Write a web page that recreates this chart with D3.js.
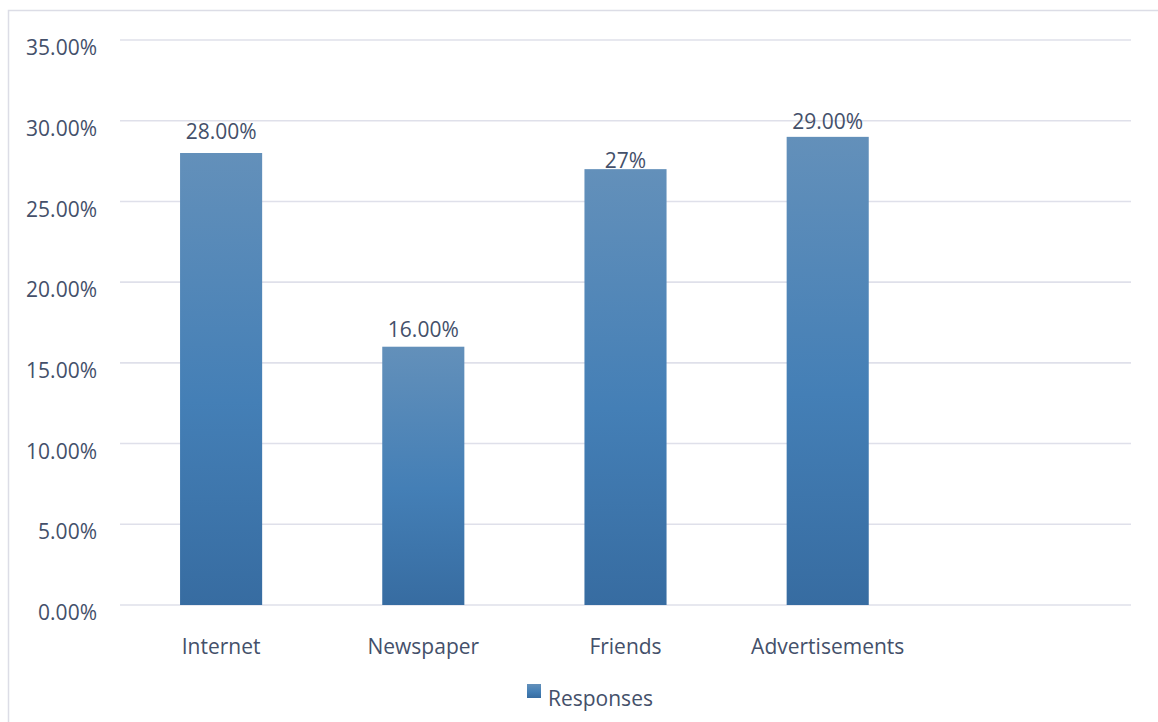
<!DOCTYPE html>
<html>
<head>
<meta charset="utf-8">
<script src="https://cdn.jsdelivr.net/npm/d3@7/dist/d3.min.js"></script>
<style>
  html, body { margin: 0; padding: 0; background: #ffffff; }
  svg { display: block; }
  text { font-family: "Open Sans", "Noto Sans", sans-serif; fill: #44506a; }
</style>
</head>
<body>
<svg id="chart" width="1158" height="722"></svg>
<script>
// Survey: where respondents heard about it
const categories = ["Internet", "Newspaper", "Friends", "Advertisements", ""];
const responses = [0.28, 0.16, 0.27, 0.29];
const valueLabels = ["28.00%", "16.00%", "27%", "29.00%"];
const yTicks = [0, 0.05, 0.10, 0.15, 0.20, 0.25, 0.30, 0.35];
const seriesName = "Responses";
// vertical gap (px) between each bar top and its value label
const labelLift = [14, 10, 1, 8];

const FONT_SIZE = "21px";
const svg = d3.select("#chart");
const W = 1158, H = 722;
const plot = { left: 120, right: 1131, top: 40, bottom: 605 };

// outer chart frame
svg.append("rect")
  .attr("x", 8.5).attr("y", 10.5)
  .attr("width", W + 10).attr("height", H + 10)
  .attr("fill", "none").attr("stroke", "#dcdde6").attr("stroke-width", 1.5);

const x = d3.scaleBand()
  .domain(categories)
  .range([plot.left, plot.right])
  .paddingInner(0.594)
  .paddingOuter(0.297);

const y = d3.scaleLinear()
  .domain([0, 0.35])
  .range([plot.bottom, plot.top]);

// bar gradient (lighter at top, darker at base)
const defs = svg.append("defs");
const grad = defs.append("linearGradient")
  .attr("id", "barFill")
  .attr("x1", 0).attr("y1", 0).attr("x2", 0).attr("y2", 1);
grad.append("stop").attr("offset", "0%").attr("stop-color", "#6390ba");
grad.append("stop").attr("offset", "55%").attr("stop-color", "#447fb6");
grad.append("stop").attr("offset", "100%").attr("stop-color", "#376ca1");

// horizontal gridlines
svg.append("g")
  .selectAll("line")
  .data(yTicks)
  .join("line")
  .attr("x1", plot.left).attr("x2", plot.right)
  .attr("y1", d => y(d)).attr("y2", d => y(d))
  .attr("stroke", "#dfe0ea").attr("stroke-width", 1.6);

// y axis labels
const yAxis = d3.axisLeft(y)
  .tickValues(yTicks)
  .tickFormat(d3.format(".2%"))
  .tickSize(0)
  .tickPadding(0);
const yg = svg.append("g")
  .attr("transform", `translate(97,0)`)
  .call(yAxis);
yg.select(".domain").remove();
yg.selectAll("text")
  .attr("dy", "0.7em")
  .attr("dx", 0)
  .style("font-size", FONT_SIZE)
  .style("font-family", "\"Open Sans\", sans-serif")
  .attr("fill", "#44506a");

// bars
svg.append("g")
  .selectAll("rect")
  .data(responses)
  .join("rect")
  .attr("x", (d, i) => x(categories[i]))
  .attr("y", d => y(d))
  .attr("width", x.bandwidth())
  .attr("height", d => y(0) - y(d))
  .attr("fill", "url(#barFill)");

// value labels
svg.append("g")
  .selectAll("text")
  .data(responses)
  .join("text")
  .attr("x", (d, i) => x(categories[i]) + x.bandwidth() / 2)
  .attr("y", (d, i) => y(d) - labelLift[i])
  .attr("text-anchor", "middle")
  .style("font-size", FONT_SIZE)
  .text((d, i) => valueLabels[i]);

// x axis category labels
const xAxis = d3.axisBottom(x).tickSize(0).tickPadding(0);
const xg = svg.append("g")
  .attr("transform", `translate(0,${plot.bottom})`)
  .call(xAxis);
xg.select(".domain").remove();
xg.selectAll("text")
  .attr("y", 49)
  .attr("dy", 0)
  .style("font-size", FONT_SIZE)
  .style("font-family", "\"Open Sans\", sans-serif")
  .attr("fill", "#44506a");

// legend
const legend = svg.append("g").attr("transform", "translate(527,684)");
legend.append("rect")
  .attr("width", 14).attr("height", 14)
  .attr("fill", "url(#barFill)");
legend.append("text")
  .attr("x", 21).attr("y", 22)
  .style("font-size", FONT_SIZE)
  .text(seriesName);
</script>
</body>
</html>
